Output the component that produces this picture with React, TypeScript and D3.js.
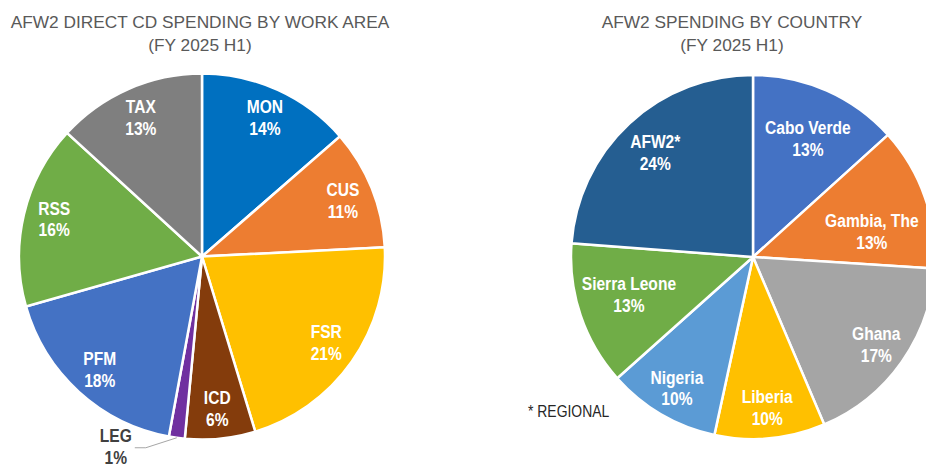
import React from 'react';
import * as d3 from 'd3';

// work area split (left pie), in % of direct CD spending
const areaNames = ['MON', 'CUS', 'FSR', 'ICD', 'LEG', 'PFM', 'RSS', 'TAX'];
const areaValues = [13.6, 10.6, 21.1, 6.2, 1.4, 17.7, 16.2, 13.2];
const areaLabels = ['14%', '11%', '21%', '6%', '1%', '18%', '16%', '13%'];
const areaColors = ['#0070C0', '#ED7D31', '#FFC000', '#843C0C', '#7030A0', '#4472C4', '#70AD47', '#7F7F7F'];

// country split (right pie)
const countryNames = ['Cabo Verde', 'Gambia, The', 'Ghana', 'Liberia', 'Nigeria', 'Sierra Leone', 'AFW2*'];
const countryValues = [13.3, 12.7, 17.6, 9.8, 10.0, 12.8, 23.8];
const countryLabels = ['13%', '13%', '17%', '10%', '10%', '13%', '24%'];
const countryColors = ['#4472C4', '#ED7D31', '#A5A5A5', '#FFC000', '#5B9BD5', '#70AD47', '#255E91'];

const FONT = "'Liberation Sans', Arial, sans-serif";

function Label({ x, y, lines, color = '#fff' }) {
    return (
        <g transform={`translate(${x},${y}) scale(0.82,1)`}>
            <text
                textAnchor="middle"
                fontFamily={FONT}
                fontWeight="bold"
                fontSize={19}
                fill={color}
            >
                <tspan x={0} y={-4}>{lines[0]}</tspan>
                <tspan x={0} y={18}>{lines[1]}</tspan>
            </text>
        </g>
    );
}

function Pie({ cx, cy, r, values, names, labels, colors, labelRadius = {}, nudge = {}, outside = {} }) {
    const pie = d3.pie().sort(null).value((d) => d);
    const arcs = pie(values);
    const arc = d3.arc().innerRadius(0).outerRadius(r);

    return (
        <g transform={`translate(${cx},${cy})`}>
            {arcs.map((a, i) => (
                <path key={i} d={arc(a)} fill={colors[i]} stroke="#fff" strokeWidth={2.5} />
            ))}
            {arcs.map((a, i) => {
                const mid = (a.startAngle + a.endAngle) / 2;
                if (outside[names[i]]) {
                    // small slice: label sits outside with a leader line
                    const ex = r * Math.sin(mid);
                    const ey = -r * Math.cos(mid);
                    const o = outside[names[i]];
                    return (
                        <g key={'l' + i}>
                            <polyline
                                points={`${ex},${ey} ${ex - 31},${ey + 10} ${ex - 42},${ey + 10}`}
                                fill="none"
                                stroke="#A6A6A6"
                                strokeWidth={1}
                            />
                            <Label x={ex + o[0]} y={ey + o[1]} lines={[names[i], labels[i]]} color="#404040" />
                        </g>
                    );
                }
                const lr = r * (labelRadius[names[i]] || 0.83);
                const [nx, ny] = nudge[names[i]] || [0, 0];
                const lx = lr * Math.sin(mid) + nx;
                const ly = -lr * Math.cos(mid) + ny;
                return <Label key={'l' + i} x={lx} y={ly} lines={[names[i], labels[i]]} />;
            })}
        </g>
    );
}

function Title({ x, lines }) {
    return (
        <text textAnchor="middle" fontFamily={FONT} fontSize={17.3} fill="#595959">
            <tspan x={x} y={28}>{lines[0]}</tspan>
            <tspan x={x} y={51}>{lines[1]}</tspan>
        </text>
    );
}

export default function App() {
    return (
        <svg width={926} height={468} style={{ position: 'absolute', left: 0, top: 0, background: '#fff' }}>
            <Title x={200} lines={['AFW2 DIRECT CD SPENDING BY WORK AREA', '(FY 2025 H1)']} />
            <Title x={732} lines={['AFW2 SPENDING BY COUNTRY', '(FY 2025 H1)']} />
            <Pie
                cx={202}
                cy={256.5}
                r={183}
                values={areaValues}
                names={areaNames}
                labels={areaLabels}
                colors={areaColors}
                nudge={{ RSS: [0, -3], FSR: [0, -2], MON: [0, -1] }}
                outside={{ LEG: [-61, 8] }}
            />
            <Pie
                cx={753}
                cy={257}
                r={182}
                values={countryValues}
                names={countryNames}
                labels={countryLabels}
                colors={countryColors}
                labelRadius={{ 'Cabo Verde': 0.73, 'Gambia, The': 0.68, 'Sierra Leone': 0.72, 'AFW2*': 0.79 }}
                nudge={{ 'Gambia, The': [2, 15], 'Sierra Leone': [0, -5], 'Cabo Verde': [1, 2] }}
            />
            <g transform="translate(528,417) scale(0.82,1)">
                <text fontFamily={FONT} fontSize={17} fill="#262626">* REGIONAL</text>
            </g>
        </svg>
    );
}
